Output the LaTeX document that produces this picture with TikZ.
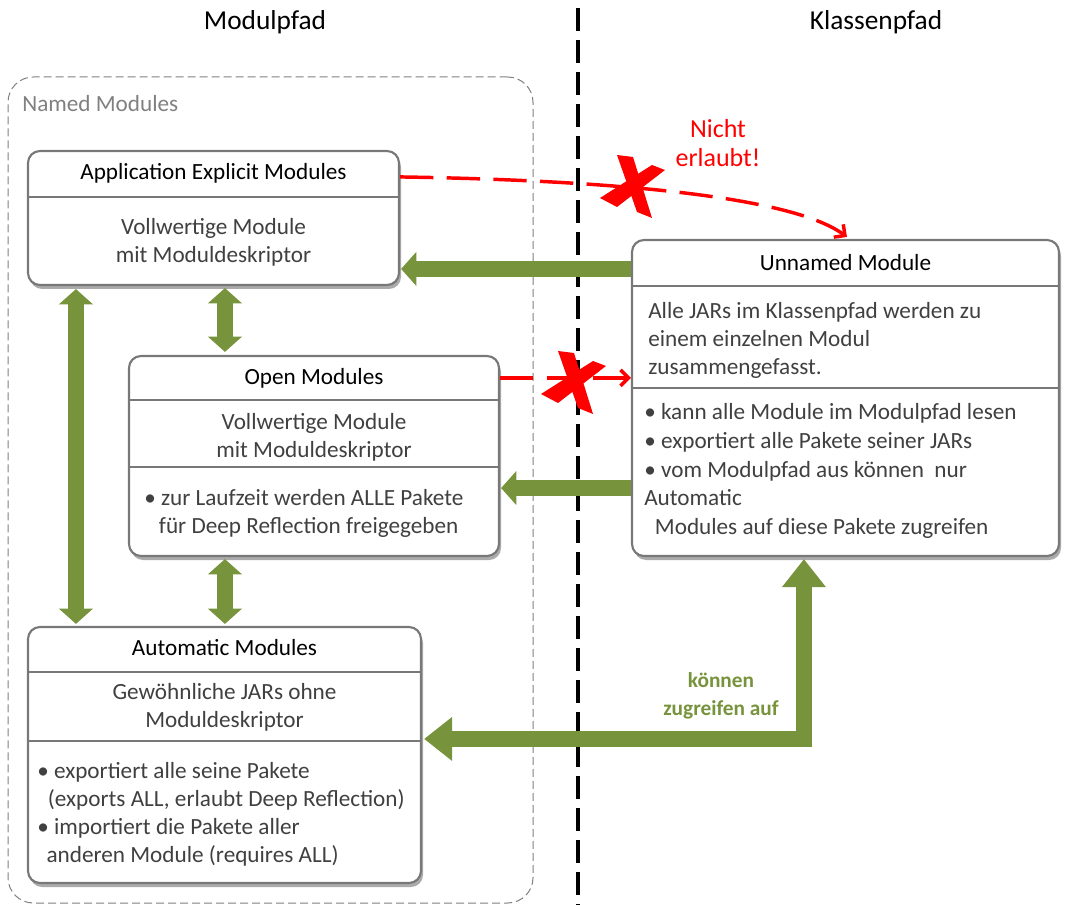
\documentclass[tikz,border=0pt]{standalone}
\usepackage{fontspec}
\setmainfont{Carlito}
\usetikzlibrary{arrows.meta,shadows,calc,fit}
\definecolor{grn}{RGB}{119,147,60}
\definecolor{bline}{RGB}{120,120,120}
\definecolor{btxt}{RGB}{64,64,64}
\definecolor{xred}{RGB}{255,0,0}
\definecolor{ngray}{RGB}{128,128,128}
\begin{document}
\begin{tikzpicture}[x=0.75pt,y=-0.75pt,
  modbox/.style={draw=bline, line width=1.6pt, rounded corners=9pt, fill=white, inner sep=0pt,
     drop shadow={shadow xshift=1.5pt,shadow yshift=-3pt,fill=black!60,opacity=0.55}},
  divider/.style={draw=bline, line width=0.9pt},
  ttl/.style={font=\fontsize{17.4}{21}\selectfont, text=black, inner sep=0pt},
  body/.style={font=\fontsize{17.4}{21}\selectfont, text=btxt, inner sep=0pt, align=center},
  lbody/.style={body, align=left, anchor=west},
  pathtitle/.style={font=\fontsize{20.5}{24}\selectfont, text=black, inner sep=0pt},
  sarrow/.style={draw=grn, line width=12pt, -{Triangle[length=11.5pt,width=25pt]}},
  darrow/.style={draw=grn, line width=12pt, {Triangle[length=11.5pt,width=25pt]}-{Triangle[length=11.5pt,width=25pt]}},
  bigarrow/.style={draw=grn, line width=12pt, line join=miter, {Triangle[length=21pt,width=31.5pt]}-{Triangle[length=21pt,width=31.5pt]}},
  redline/.style={draw=xred, line width=2.6pt, dash pattern=on 25pt off 10pt, -{Straight Barb[length=6pt,width=12pt]}},
  redx/.pic={
    \fill[xred] (-15,-32) -- (1,-30) -- (20,31) -- (5,25) -- cycle;
    \fill[xred] (20,-22) -- (33,-17) -- (-15,20) -- (-32,11) -- cycle;
  }
]
\useasboundingbox (0,0) rectangle (1066,905);

% column titles
\node[pathtitle] (tmod) at (265,22) {Modulpfad};
\node[pathtitle] (tkla) at (876,22) {Klassenpfad};

% separator
\draw[black, line width=2.4pt, dash pattern=on 17pt off 7pt] (578,8) -- (578,905);

% named modules area
\node[draw=ngray, line width=0.75pt, dash pattern=on 6pt off 3pt, rounded corners=19pt, inner sep=0pt,
      fit={(8,77) (533,903)}] (named) {};
\node[body, text=ngray, anchor=west] (namedT) at (22,104) {Named Modules};

% Application Explicit Modules
\node[modbox, fit={(28,151) (399,285)}] (app) {};
\draw[divider] (28,197) -- (399,197);
\node[ttl] (appT) at (213.5,173) {Application Explicit Modules};
\node[body] (appB) at (213.5,242) {Vollwertige Module\\mit Moduldeskriptor};

% Open Modules
\node[modbox, fit={(129,356) (499,556)}] (open) {};
\draw[divider] (129,400) -- (499,400);
\draw[divider] (129,467) -- (499,467);
\node[ttl] (openT) at (314,378) {Open Modules};
\node[body] (openB) at (314,437) {Vollwertige Module\\mit Moduldeskriptor};
\node[lbody] (openL) at (144,513) {\textbullet\ zur Laufzeit werden ALLE Pakete\\\hspace*{11pt}für Deep Reflection freigegeben};

% Automatic Modules
\node[modbox, fit={(28,627) (421,883)}] (auto) {};
\draw[divider] (28,672) -- (421,672);
\draw[divider] (28,741) -- (421,741);
\node[ttl] (autoT) at (224.5,648) {Automatic Modules};
\node[body] (autoB) at (224.5,707) {Gewöhnliche JARs ohne\\Moduldeskriptor};
\node[lbody] (autoL) at (37,814) {\textbullet\ exportiert alle seine Pakete\\\hspace*{8pt}(exports ALL, erlaubt Deep Reflection)\\\textbullet\ importiert die Pakete aller\\\hspace*{7pt}anderen Module (requires ALL)};

% Unnamed Module
\node[modbox, fit={(632,240) (1059,556)}] (unnamed) {};
\draw[divider] (632,286) -- (1059,286);
\draw[divider] (632,388) -- (1059,388);
\node[ttl] (unT) at (845.5,263) {Unnamed Module};
\node[lbody] (unB) at (648,340) {Alle JARs im Klassenpfad werden zu\\einem einzelnen Modul\\zusammengefasst.};
\node[lbody, font=\fontsize{17.4}{21.7}\selectfont] (unL) at (644,471) {\textbullet\ kann alle Module im Modulpfad lesen\\\textbullet\ exportiert alle Pakete seiner JARs\\\textbullet\ vom Modulpfad aus können\ \ nur\\Automatic\\\hspace*{8pt}Modules auf diese Pakete zugreifen};

% labels
\node[body, text=xred, font=\fontsize{19.5}{22}\selectfont] (nicht) at (718,143) {Nicht\\erlaubt!};
\node[body, text=grn, font=\fontsize{16}{21}\selectfont\bfseries] (koennen) at (721,696) {können\\zugreifen auf};

% green arrows
\draw[sarrow] ($(unnamed.north west)+(0,30)$) -- ($(app.north east)+(1,119)$);
\draw[sarrow] ($(unnamed.south west)+(0,-69)$) -- ($(open.south east)+(1,-69)$);
\draw[darrow] ($(app.south west)+(49,3)$) -- ($(auto.north west)+(49,-2)$);
\draw[darrow] ($(app.south west)+(198,2)$) -- ($(open.north west)+(97,-3)$);
\draw[darrow] ($(open.south west)+(97,2)$) -- ($(auto.north west)+(198,-2)$);
\draw[bigarrow] ($(auto.north east)+(2,113)$) -| ($(unnamed.south west)+(173,2)$);

% red forbidden arrows
\draw[redline] ($(app.north east)+(0,27)$) .. controls (600,180) and (790,195) .. ($(unnamed.north west)+(216,-2)$);
\draw[redline] ($(open.north east)+(0,23)$) -- ($(unnamed.north west)+(0,139)$);
\pic at (632,187) {redx};
\pic at (573,383) {redx};
\end{tikzpicture}
\end{document}
